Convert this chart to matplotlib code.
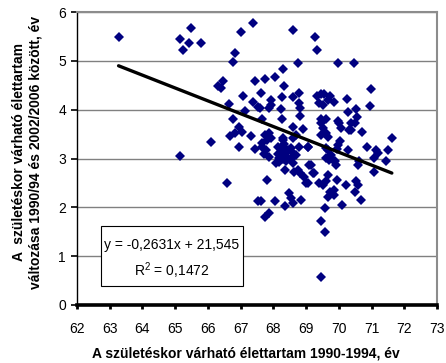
import matplotlib
matplotlib.use("Agg")
import matplotlib.pyplot as plt
from matplotlib.patches import Rectangle
import numpy as np

plt.rcParams['font.family'] = ['Liberation Sans', 'DejaVu Sans']
plt.rcParams['mathtext.fontset'] = 'custom'
plt.rcParams['mathtext.rm'] = 'Liberation Sans'
plt.rcParams['mathtext.it'] = 'Liberation Sans'

# Life expectancy at birth 1990-1994 (years)
life_exp_1990 = [
    63.27, 65.16, 65.24, 65.41, 65.49, 65.79, 65.16, 66.09, 66.47, 66.32, 66.40, 66.64,
    66.57, 66.83, 66.76, 66.78, 66.95, 67.05, 66.82, 66.69, 66.95, 67.01, 67.38,
    67.08, 67.39, 67.44, 67.53, 67.14, 67.32, 67.44, 67.54, 67.61, 67.75, 67.92, 67.94,
    67.87, 67.58, 67.64, 67.75, 67.87, 67.92, 67.82, 67.66, 67.66, 67.77, 67.72, 67.87,
    67.82, 67.63, 67.75, 67.87, 68.05, 68.05,
    68.60, 68.74, 68.30, 68.33, 68.26, 68.60, 68.79, 68.23, 68.79, 68.82, 68.82, 68.25,
    68.59, 68.92, 68.69, 68.28, 68.59, 68.77, 69.05,
    68.28, 68.33, 68.15, 68.33, 68.23, 68.45, 68.53, 68.13, 68.38, 68.59, 68.69, 68.17,
    68.30, 68.53, 68.17, 68.38, 68.07, 68.36, 68.62, 68.74, 68.82, 68.94, 68.99, 68.36,
    68.60, 68.53, 68.48, 68.84, 68.59,
    69.28, 69.34, 69.97, 69.32, 69.45, 69.55, 69.40, 69.51, 69.66, 69.74, 69.86, 69.45,
    69.61, 69.97, 69.45, 69.51, 69.45, 69.61, 69.66, 69.61, 69.66, 69.05, 69.10, 69.15,
    69.20, 69.25, 69.40, 69.51, 69.61, 69.66, 69.74, 69.86, 69.91, 69.81, 69.94, 69.68,
    69.86, 69.59, 69.45, 69.59, 69.45, 69.76, 69.89, 69.61, 69.97, 70.05, 69.71, 69.05,
    70.45, 70.25, 70.99, 70.94, 70.27, 70.51, 70.56, 70.48, 70.07, 70.02, 70.37, 70.32,
    70.71, 70.27, 70.87, 71.14, 71.19, 71.09, 71.50, 71.62, 71.45, 70.63, 70.58, 71.07,
    70.22, 70.53, 70.58, 70.50, 70.68, 70.10, 70.37, 69.95,
]
# Change of life expectancy between 1990/94 and 2002/2006 (years)
change_2002_2006 = [
    5.48, 5.44, 5.23, 5.36, 5.68, 5.36, 3.06, 3.34, 4.59, 4.49, 4.45, 4.11,
    2.49, 5.16, 4.97, 3.80, 3.64, 3.55, 3.52, 3.46, 3.24, 5.59, 5.77,
    4.28, 4.15, 4.58, 4.05, 3.98, 3.47, 3.19, 2.12, 4.35, 4.62, 4.20, 4.10,
    4.03, 4.04, 3.80, 3.48, 3.52, 3.42, 3.38, 3.31, 3.24, 3.18, 3.10, 3.04,
    2.56, 2.12, 1.81, 1.88, 4.66, 2.12,
    5.64, 4.95, 4.83, 4.49, 4.26, 4.26, 4.35, 4.01, 4.13, 4.03, 3.88, 3.80,
    3.65, 3.60, 3.48, 3.42, 3.42, 3.24, 3.24,
    3.38, 3.29, 3.23, 3.22, 3.14, 3.18, 3.22, 3.10, 3.06, 3.11, 3.07, 3.02,
    3.00, 2.99, 2.93, 2.94, 2.90, 2.77, 2.73, 2.77, 2.70, 2.63, 2.49, 2.03,
    2.08, 2.19, 2.29, 2.15, 2.90,
    5.48, 5.23, 4.95, 4.28, 4.32, 4.33, 4.13, 4.10, 4.20, 4.27, 4.15, 3.80,
    3.80, 3.76, 3.72, 3.62, 3.48, 3.52, 3.45, 3.21, 3.18, 3.23, 2.87, 2.87,
    2.70, 2.70, 2.49, 2.46, 2.53, 2.66, 2.32, 2.36, 2.87, 2.97, 2.56, 2.22,
    2.25, 1.98, 1.72, 1.50, 0.57, 3.07, 2.94, 3.01, 3.28, 3.35, 2.97, 2.49,
    4.95, 4.21, 4.42, 4.08, 3.96, 4.01, 3.85, 3.72, 3.63, 3.72, 3.59, 3.59,
    3.54, 3.18, 3.24, 3.18, 3.11, 3.01, 3.18, 3.42, 2.94, 2.94, 2.87, 2.73,
    2.46, 2.53, 2.46, 2.32, 2.15, 2.04, 3.72, 3.20,
]

# Linear trendline reported on the chart
trend_slope = -0.2631
trend_intercept = 21.545
trend_label = "y = -0,2631x + 21,545"
r2_label = "R$^2$ = 0,1472"

x_ticks = list(range(62, 74))
y_ticks = list(range(0, 7))
x_title = "A születéskor várható élettartam 1990-1994, év"
y_title = "A  születéskor várható élettartam\nváltozása 1990/94 és 2002/2006 között, év"

fig = plt.figure(figsize=(4.46, 3.63), dpi=100)
ax = fig.add_axes([77/446, 1-305/363, 360/446, 293/363])

ax.set_xlim(62, 73)
ax.set_ylim(0, 6)
ax.set_xticks(x_ticks)
ax.set_yticks(y_ticks)
ax.tick_params(axis='both', labelsize=10, direction='out', length=4, width=1.2, color='black')
ax.tick_params(axis='x', pad=9, length=3, width=2)
ax.tick_params(axis='y', pad=4)

ax.yaxis.grid(True, color='#808080', linewidth=1.0)
ax.set_axisbelow(True)

for s in ['top', 'right']:
    ax.spines[s].set_color('#8c8c8c')
    ax.spines[s].set_linewidth(1.5)
ax.spines['left'].set_color('black')
ax.spines['left'].set_linewidth(1.0)
ax.spines['bottom'].set_color('black')
ax.spines['bottom'].set_linewidth(2.6)
ax.spines['bottom'].set_zorder(5)

ax.plot(life_exp_1990, change_2002_2006, linestyle='none', marker='D',
        markersize=4.6, color='#000080', markeredgewidth=0, zorder=3)

xs = np.array([min(life_exp_1990), max(life_exp_1990)])
ax.plot(xs, trend_slope * xs + trend_intercept, color='black', linewidth=2.4,
        solid_capstyle='round', zorder=4)

bx0, bx1 = (100.7-77)/360, (242.7-77)/360
by0, by1 = (305-286)/293, (305-225.7)/293
ax.add_patch(Rectangle((bx0, by0), bx1-bx0, by1-by0, transform=ax.transAxes,
                       facecolor='white', edgecolor='black', linewidth=0.8, zorder=6))
cx = (bx0+bx1)/2
ax.text(cx, (305-245)/293, trend_label, transform=ax.transAxes, ha='center', va='center',
        fontsize=10, zorder=7)
ax.text(cx, (305-271)/293, r2_label, transform=ax.transAxes, ha='center', va='center',
        fontsize=10, zorder=7)

fig.text(246/446, 1-354/363, x_title, ha='center', va='center', fontsize=10, fontweight='bold')
fig.text(27/446, 1-152/363, y_title, ha='center', va='center', fontsize=10, fontweight='bold',
         rotation=90, linespacing=1.25, multialignment='center')

fig.savefig("out.png", dpi=100)
